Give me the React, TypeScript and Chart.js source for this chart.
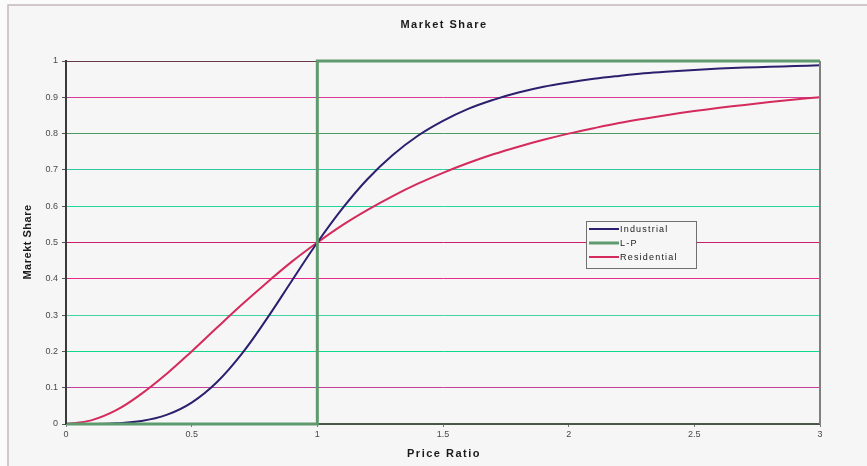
import React, { useEffect, useRef } from "react";
import { Chart, registerables } from "chart.js";

Chart.register(...registerables);

const xValues = [0, 0.1, 0.2, 0.3, 0.4, 0.5, 0.6, 0.7, 0.8, 0.9, 1.0, 1.1, 1.2, 1.3, 1.4, 1.5, 1.6, 1.7, 1.8, 1.9, 2.0, 2.1, 2.2, 2.3, 2.4, 2.5, 2.6, 2.7, 2.8, 2.9, 3.0];
const industrial = [0, 0.0001, 0.002, 0.008, 0.025, 0.059, 0.115, 0.194, 0.291, 0.396, 0.5, 0.594, 0.675, 0.741, 0.794, 0.835, 0.868, 0.893, 0.913, 0.929, 0.941, 0.951, 0.959, 0.966, 0.971, 0.975, 0.979, 0.982, 0.984, 0.986, 0.988];
const residential = [0, 0.01, 0.038, 0.083, 0.138, 0.2, 0.265, 0.329, 0.39, 0.448, 0.5, 0.548, 0.59, 0.628, 0.662, 0.692, 0.719, 0.743, 0.764, 0.783, 0.8, 0.815, 0.829, 0.841, 0.852, 0.862, 0.871, 0.879, 0.887, 0.894, 0.9];
const lpX = [0, 1, 1, 3];
const lpY = [0, 0, 1, 1];
const seriesNames = ["Industrial", "L-P", "Residential"];
const seriesColors = ["#2b1f6e", "#5f9a6e", "#d42a5c"];
// gridline colours from y = 0 up to y = 1
const gridColors = ["#445544", "#c0409a", "#10d88a", "#40d4a6", "#e8288a", "#c8206a", "#20d89c", "#30c89c", "#4a9a62", "#d83a98", "#6a3a4a"];

const fmt = (v: number) => String(Number(v.toFixed(1)));

export default function App() {
  const ref = useRef<HTMLCanvasElement | null>(null);
  useEffect(() => {
    const canvas = ref.current!;
    const decor = {
      id: "decor",
      beforeDraw(chart: any) {
        const ctx = chart.ctx;
        ctx.save();
        ctx.fillStyle = "#fbfbfb";
        ctx.fillRect(0, 0, chart.width, chart.height);
        ctx.fillStyle = "#f6f6f6";
        ctx.fillRect(8, 5, chart.width - 8, chart.height - 5);
        ctx.strokeStyle = "#c4b8c0";
        ctx.lineWidth = 1.5;
        ctx.beginPath();
        ctx.moveTo(8, chart.height);
        ctx.lineTo(8, 5);
        ctx.lineTo(chart.width, 5);
        ctx.stroke();
        ctx.restore();
      },
      afterDraw(chart: any) {
        const ctx = chart.ctx;
        const a = chart.chartArea;
        ctx.save();
        ctx.strokeStyle = "#808080";
        ctx.lineWidth = 2;
        ctx.beginPath();
        ctx.moveTo(a.right, a.top);
        ctx.lineTo(a.right, a.bottom);
        ctx.stroke();
        ctx.strokeStyle = "#3a3a3a";
        ctx.beginPath();
        ctx.moveTo(a.left, a.top);
        ctx.lineTo(a.left, a.bottom);
        ctx.stroke();
        ctx.fillStyle = "#1a1a1a";
        (ctx as any).letterSpacing = "1.5px";
        ctx.font = "bold 11px 'Liberation Sans', Arial, sans-serif";
        ctx.textAlign = "center";
        ctx.textBaseline = "middle";
        ctx.fillText("Market Share", 444, 25);
        ctx.fillText("Price Ratio", 444, 454);
        ctx.save();
        ctx.translate(28, 242);
        ctx.rotate(-Math.PI / 2);
        (ctx as any).letterSpacing = "0.5px";
        ctx.fillText("Marekt Share", 0, 0);
        ctx.restore();
        const lx = 586, ly = 221, lw = 110, lh = 47;
        ctx.fillStyle = "#f6f6f6";
        ctx.fillRect(lx, ly, lw, lh);
        ctx.strokeStyle = "#707070";
        ctx.lineWidth = 1;
        ctx.strokeRect(lx + 0.5, ly + 0.5, lw, lh);
        (ctx as any).letterSpacing = "1.2px";
        ctx.font = "9px 'Liberation Sans', Arial, sans-serif";
        ctx.textAlign = "left";
        const rows = [229, 243, 257];
        seriesNames.forEach((name, i) => {
          ctx.strokeStyle = seriesColors[i];
          ctx.lineWidth = i === 1 ? 3 : 2;
          ctx.beginPath();
          ctx.moveTo(589, rows[i]);
          ctx.lineTo(619, rows[i]);
          ctx.stroke();
          ctx.fillStyle = "#1a1a1a";
          ctx.fillText(name, 620, rows[i] + 0.5);
        });
        ctx.restore();
      },
    };
    const chart = new Chart(canvas, {
      type: "line",
      data: {
        datasets: [
          {
            label: seriesNames[0],
            data: xValues.map((x, i) => ({ x, y: industrial[i] })),
            borderColor: seriesColors[0],
            borderWidth: 2,
            pointRadius: 0,
            tension: 0.4,
            order: 1,
          },
          {
            label: seriesNames[1],
            data: lpX.map((x, i) => ({ x, y: lpY[i] })),
            borderColor: seriesColors[1],
            borderWidth: 3,
            pointRadius: 0,
            tension: 0,
            order: 0,
          },
          {
            label: seriesNames[2],
            data: xValues.map((x, i) => ({ x, y: residential[i] })),
            borderColor: seriesColors[2],
            borderWidth: 2,
            pointRadius: 0,
            tension: 0.4,
            order: 2,
          },
        ],
      },
      options: {
        animation: false,
        responsive: false,
        devicePixelRatio: 1,
        clip: false as any,
        layout: { padding: { left: 0, top: 61, right: 47, bottom: 0 } },
        plugins: { legend: { display: false }, tooltip: { enabled: false }, title: { display: false } },
        scales: {
          x: {
            type: "linear",
            min: 0,
            max: 3,
            afterFit: (s: any) => { s.height = 42; },
            ticks: {
              stepSize: 0.5,
              callback: (v: any) => fmt(Number(v)),
              font: { size: 9, family: "'Liberation Sans', Arial, sans-serif" },
              color: "#4a4a4a",
              padding: 2,
              maxRotation: 0,
            },
            grid: {
              drawOnChartArea: false,
              drawTicks: true,
              tickLength: 3,
              tickColor: "#777",
            },
            border: { color: "#4a5a4a", width: 1.5 },
          },
          y: {
            type: "linear",
            min: 0,
            max: 1,
            afterFit: (s: any) => { s.width = 66; },
            ticks: {
              stepSize: 0.1,
              callback: (v: any) => fmt(Number(v)),
              font: { size: 9, family: "'Liberation Sans', Arial, sans-serif" },
              color: "#4a4a4a",
              padding: 4,
            },
            grid: {
              color: (c: any) => gridColors[c.index] || "#999",
              lineWidth: 1,
              tickLength: 4,
              tickColor: "#555",
            },
            border: { color: "#3a3a3a", width: 2 },
          },
        },
      },
      plugins: [decor],
    });
    return () => chart.destroy();
  }, []);
  return (
    <div style={{ position: "fixed", left: 0, top: 0, width: 867, height: 466 }}>
      <canvas ref={ref} width={867} height={466} style={{ width: 867, height: 466, display: "block" }} />
    </div>
  );
}
